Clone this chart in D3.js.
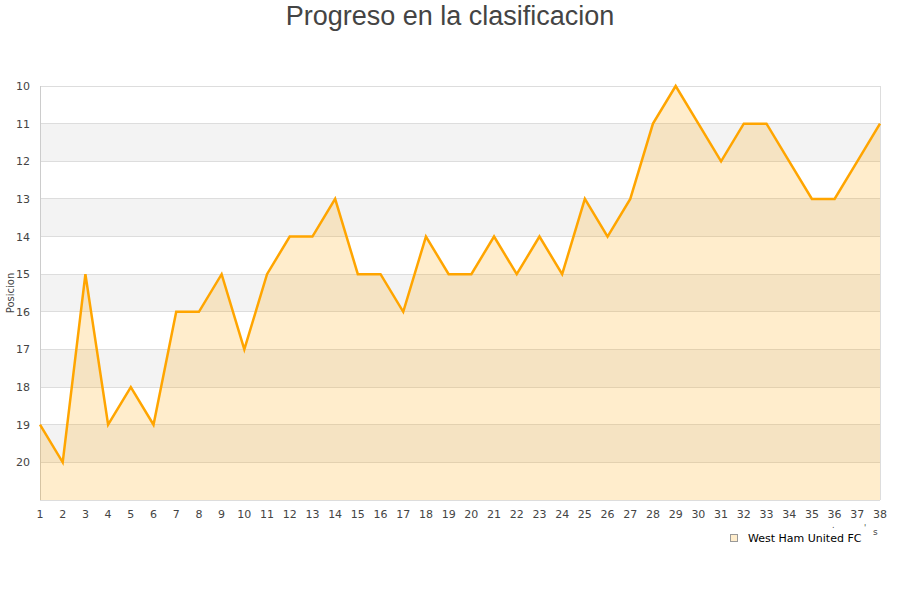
<!DOCTYPE html>
<html>
<head>
<meta charset="utf-8">
<script src="https://cdn.jsdelivr.net/npm/d3@7"></script>
<style>
html,body{margin:0;padding:0;background:#fff;}
svg{display:block;}
</style>
</head>
<body>
<svg id="chart" width="900" height="600"></svg>
<script>
const title = "Progreso en la clasificacion";
const yAxisTitle = "Posicion";
const seriesName = "West Ham United FC";
const jornadas = d3.range(1, 39);
const posiciones = [19,20,15,19,18,19,16,16,15,17,15,14,14,13,15,15,16,14,15,15,14,15,14,15,13,14,13,11,10,11,12,11,11,12,13,13,12,11];
const yTicks = [10,11,12,13,14,15,16,17,18,19,20];
const bands = [[11,12],[13,14],[15,16],[17,18],[19,20]];

const svg = d3.select("#chart");
const m = {left:40, right:880, top:86, bottom:500};
const x = d3.scaleLinear().domain([1,38]).range([m.left, m.right]);
const y = d3.scaleLinear().domain([10,21]).range([m.top, m.bottom]);

svg.append("text").attr("x",450).attr("y",25).attr("text-anchor","middle")
  .attr("font-family","Liberation Sans, Arial, sans-serif").attr("font-size",27)
  .attr("fill","#444").text(title);

// bands
svg.append("g").selectAll("rect").data(bands).join("rect")
  .attr("x",m.left).attr("width",m.right-m.left)
  .attr("y",d=>y(d[0])).attr("height",d=>y(d[1])-y(d[0]))
  .attr("fill","#f3f3f3");

// grid lines
svg.append("g").selectAll("line").data(yTicks).join("line")
  .attr("x1",m.left).attr("x2",m.right)
  .attr("y1",d=>y(d)).attr("y2",d=>y(d))
  .attr("stroke","#dddddd").attr("stroke-width",1).attr("shape-rendering","crispEdges");

// borders
svg.append("line").attr("x1",m.right).attr("x2",m.right).attr("y1",m.top).attr("y2",m.bottom)
  .attr("stroke","#dddddd").attr("shape-rendering","crispEdges");
svg.append("line").attr("x1",m.left).attr("x2",m.right).attr("y1",m.bottom).attr("y2",m.bottom)
  .attr("stroke","#dddddd").attr("shape-rendering","crispEdges");
svg.append("line").attr("x1",m.left).attr("x2",m.left).attr("y1",m.top).attr("y2",m.bottom)
  .attr("stroke","#cccccc").attr("shape-rendering","crispEdges");

const data = jornadas.map((j,i)=>({j, p:posiciones[i]}));
const area = d3.area().x(d=>x(d.j)).y0(y(21)).y1(d=>y(d.p));
const line = d3.line().x(d=>x(d.j)).y(d=>y(d.p));
svg.append("path").datum(data).attr("d",area).attr("fill","orange").attr("fill-opacity",0.2);
svg.append("path").datum(data).attr("d",line).attr("fill","none")
  .attr("stroke","orange").attr("stroke-width",2.5).attr("stroke-linejoin","miter");

// y axis labels
svg.append("g").selectAll("text").data(yTicks).join("text")
  .attr("x",30).attr("y",d=>y(d)+4).attr("text-anchor","end")
  .attr("font-family","DejaVu Sans, sans-serif").attr("font-size",11).attr("fill","#444")
  .text(d=>d);

// x axis labels
svg.append("g").selectAll("text").data(jornadas).join("text")
  .attr("x",d=>x(d)).attr("y",518).attr("text-anchor","middle")
  .attr("font-family","DejaVu Sans, sans-serif").attr("font-size",11).attr("fill","#444")
  .text(d=>d);

// y axis title
svg.append("text").attr("transform","translate(14,293) rotate(-90)").attr("text-anchor","middle")
  .attr("font-family","DejaVu Sans, sans-serif").attr("font-size",10).attr("fill","#444")
  .text(yAxisTitle);

// clipped x title remnants
svg.append("text").attr("x",832).attr("y",528).attr("font-family","DejaVu Sans, sans-serif")
  .attr("font-size",8).attr("fill","#444").text(".");
svg.append("text").attr("x",864).attr("y",531).attr("font-family","DejaVu Sans, sans-serif")
  .attr("font-size",8).attr("fill","#444").text("'");
svg.append("text").attr("x",873).attr("y",535).attr("font-family","DejaVu Sans, sans-serif")
  .attr("font-size",9).attr("fill","#444").text("s");

// legend
svg.append("rect").attr("x",730.5).attr("y",534.5).attr("width",7).attr("height",7)
  .attr("fill","#ffedcc").attr("stroke","#999").attr("stroke-width",1);
svg.append("text").attr("x",748).attr("y",542).attr("font-family","DejaVu Sans, sans-serif")
  .attr("font-size",11).attr("fill","#000").text(seriesName);
</script>
</body>
</html>
